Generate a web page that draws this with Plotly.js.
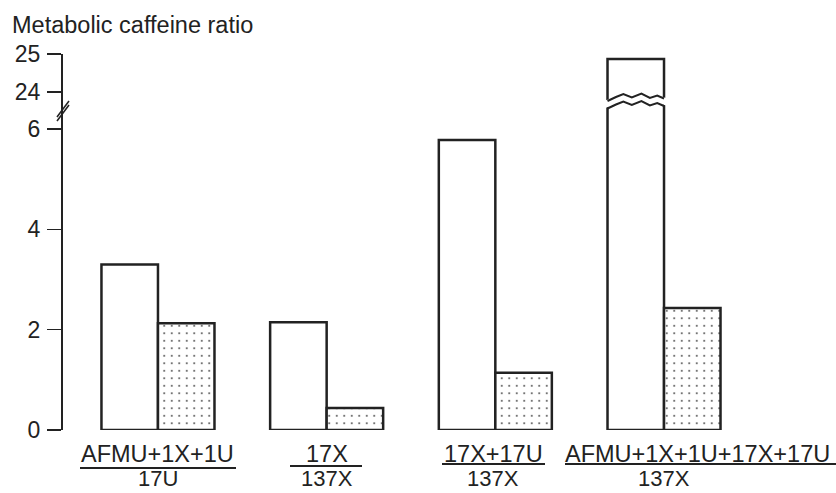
<!DOCTYPE html>
<html>
<head>
<meta charset="utf-8">
<script src="https://cdn.plot.ly/plotly-3.0.1.min.js"></script>
<style>html,body{margin:0;padding:0;background:#fff;}#chart{width:836px;height:493px;}</style>
</head>
<body>
<div id="chart"></div>
<script>
// ---- data ----
var groups = [0, 1, 2, 3];
var numerators = ["AFMU+1X+1U", "17X", "17X+17U", "AFMU+1X+1U+17X+17U"];
var denominators = ["17U", "137X", "137X", "137X"];
var openValues = [3.3, 2.15, 5.78, 24.87];
var dottedValues = [2.13, 0.44, 1.14, 2.43];
var lowerTicks = [0, 2, 4, 6];
var upperTicks = [24, 25];
var yTitle = "Metabolic caffeine ratio";

// ---- geometry ----
var W = 836, H = 493;
var mL = 63, mR = 6, mT = 54, mB = 63;
var plotW = W - mL - mR, plotH = H - mT - mB;
var xRange = [-0.563, 3.984];
var split = 0.8457;
var lowerRange = [0, 6.338];
var upperRange = [23.474, 25.0];
var bargap = 0.33;
var halfBar = (1 - bargap) / 2;

function xPx(v) { return mL + (v - xRange[0]) / (xRange[1] - xRange[0]) * plotW; }
function pxToPaperX(px) { return (px - mL) / plotW; }
function pxToPaperY(py) { return (H - mB - py) / plotH; }

var ink = '#222222';
var family = 'Liberation Sans, Arial, sans-serif';
var tickFont = {family: family, size: 23, color: ink};
var lineStyle = {color: ink, width: 2.5};

function openTrace(yaxis) {
  return {type: 'bar', x: groups, y: openValues, yaxis: yaxis,
    marker: {color: '#ffffff', line: lineStyle}, hoverinfo: 'skip', showlegend: false};
}
function dotTrace(yaxis) {
  return {type: 'bar', x: groups, y: dottedValues, yaxis: yaxis,
    marker: {color: '#ffffff', line: lineStyle,
      pattern: {shape: '.', fgcolor: '#555555', bgcolor: '#ffffff', size: 7.5, solidity: 0.06}},
    hoverinfo: 'skip', showlegend: false};
}

var data = [openTrace('y'), dotTrace('y'), openTrace('y2'), dotTrace('y2')];

// ---- break on the tall bar ----
var tallIdx = openValues.indexOf(Math.max.apply(null, openValues));
var bx0 = xPx(groups[tallIdx] - halfBar), bx1 = xPx(groups[tallIdx]);
var wave = [[0, 101], [0.15, 97], [0.28, 94], [0.43, 97.5], [0.6, 93.5], [0.75, 98], [0.88, 95.5], [1.0, 98.5]];
var gapPx = 7.5;
function wavePts(off, ext) {
  return wave.map(function (p, i) {
    var x = bx0 + p[0] * (bx1 - bx0);
    if (ext && i === 0) x -= 4;
    if (ext && i === wave.length - 1) x += 4;
    return [pxToPaperX(x), pxToPaperY(p[1] + off)];
  });
}
function pathOf(pts) { return pts.map(function (p, i) { return (i ? 'L' : 'M') + p[0] + ',' + p[1]; }).join(' '); }
var upperEdge = wavePts(0, true), lowerEdge = wavePts(gapPx, true).reverse();
var band = pathOf(upperEdge.concat(lowerEdge)) + ' Z';

var shapes = [
  {type: 'path', xref: 'paper', yref: 'paper', path: band, fillcolor: '#ffffff', line: {width: 0}, layer: 'above'},
  {type: 'path', xref: 'paper', yref: 'paper', path: pathOf(wavePts(0, false)), line: {color: ink, width: 2}, layer: 'above'},
  {type: 'path', xref: 'paper', yref: 'paper', path: pathOf(wavePts(gapPx, false)), line: {color: ink, width: 2}, layer: 'above'}
];
// axis break marks
[0, 4].forEach(function (d) {
  shapes.push({type: 'line', xref: 'paper', yref: 'paper',
    x0: pxToPaperX(57), y0: pxToPaperY(119 + d - 2), x1: pxToPaperX(69), y1: pxToPaperY(103 + d - 2),
    line: {color: ink, width: 1.5}, layer: 'above'});
});

// ---- fraction labels ----
var numShift = [0, 0, -2, 33];
var lineSpan = [[80, 236, 468], [290, 362, 466], [442, 545, 464], [565, 836, 464]];
var annotations = [];
groups.forEach(function (g, i) {
  annotations.push({xref: 'x', yref: 'paper', x: g, y: pxToPaperY(453.5), xshift: numShift[i],
    text: numerators[i], showarrow: false, xanchor: 'center', yanchor: 'middle',
    font: {family: family, size: 23.5, color: ink}});
  annotations.push({xref: 'x', yref: 'paper', x: g, y: pxToPaperY(493), xshift: numShift[i] === 33 ? 0 : numShift[i],
    text: denominators[i], showarrow: false, xanchor: 'center', yanchor: 'bottom',
    font: {family: family, size: 22, color: ink}});
  shapes.push({type: 'line', xref: 'paper', yref: 'paper',
    x0: pxToPaperX(lineSpan[i][0]), x1: pxToPaperX(lineSpan[i][1]),
    y0: pxToPaperY(lineSpan[i][2]), y1: pxToPaperY(lineSpan[i][2]),
    line: {color: ink, width: 2}});
});

var yCommon = {showgrid: false, zeroline: false, showline: true, linecolor: ink, linewidth: 2,
  ticks: 'outside', ticklen: 14, tickwidth: 1.5, tickcolor: ink, tickfont: tickFont, ticklabelstandoff: 2, fixedrange: true};

var layout = {
  width: W, height: H,
  margin: {l: mL, r: mR, t: mT, b: mB, pad: 0},
  paper_bgcolor: '#ffffff', plot_bgcolor: 'rgba(0,0,0,0)',
  barmode: 'group', bargap: bargap, bargroupgap: 0,
  showlegend: false,
  title: {text: yTitle, x: 12 / W, xanchor: 'left', xref: 'container', y: 1 - 25 / H, yref: 'container', yanchor: 'middle',
    font: {family: family, size: 23.5, color: ink}},
  xaxis: {range: xRange, showgrid: false, zeroline: false, showline: false, ticks: '', showticklabels: false, fixedrange: true, anchor: 'y'},
  yaxis: Object.assign({}, yCommon, {domain: [0, split], range: lowerRange, tickvals: lowerTicks, anchor: 'x'}),
  yaxis2: Object.assign({}, yCommon, {domain: [split, 1], range: upperRange, tickvals: upperTicks, anchor: 'x'}),
  shapes: shapes,
  annotations: annotations
};

Plotly.newPlot('chart', data, layout, {staticPlot: true, displayModeBar: false});
</script>
</body>
</html>
